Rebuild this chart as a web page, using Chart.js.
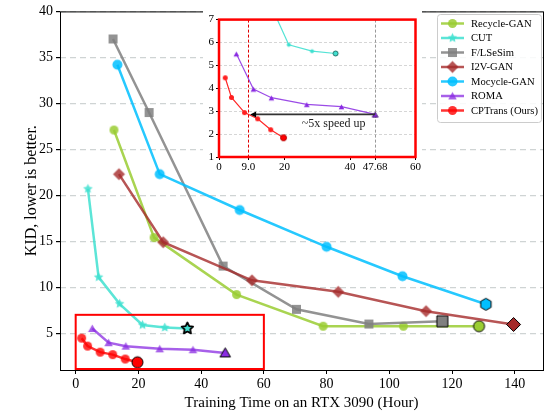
<!DOCTYPE html>
<html>
<head>
<meta charset="utf-8">
<script src="https://cdn.jsdelivr.net/npm/chart.js@4.4.1/dist/chart.umd.min.js"></script>
<style>
  body { margin: 0; background: #fff; }
  #wrap { position: relative; width: 552px; height: 415px; }
  #main { position: absolute; left: 0; top: 0; }
  #inset { position: absolute; left: 203px; top: 11px; }
</style>
</head>
<body>
<div id="wrap">
  <canvas id="main" width="552" height="415"></canvas>
  <canvas id="inset" width="219" height="166"></canvas>
</div>
<script>
// ---- data ----
const seriesNames = ['Recycle-GAN', 'CUT', 'F/LSeSim', 'I2V-GAN', 'Mocycle-GAN', 'ROMA', 'CPTrans (Ours)'];
const recycleX = [12.2, 25.0, 51.3, 78.9, 104.5, 128.6];
const recycleY = [27.1, 15.4, 9.2, 5.76, 5.76, 5.76];
const cutX = [3.9, 7.3, 14.0, 21.3, 28.4, 35.6];
const cutY = [20.7, 11.1, 8.2, 5.9, 5.62, 5.52];
const flsX = [11.9, 23.4, 47.0, 70.4, 93.5, 116.9];
const flsY = [37.0, 29.0, 12.3, 7.6, 6.0, 6.3];
const i2vX = [13.8, 27.9, 56.2, 83.7, 111.7, 139.6];
const i2vY = [22.3, 14.9, 10.75, 9.5, 7.4, 5.95];
const mocX = [13.3, 26.8, 52.3, 80.0, 104.2, 130.8];
const mocY = [34.2, 22.3, 18.4, 14.4, 11.2, 8.15];
const romaX = [5.3, 10.5, 16.0, 26.8, 37.4, 47.68];
const romaY = [5.51, 3.97, 3.59, 3.3, 3.2, 2.86];
const cptX = [1.9, 3.8, 7.8, 11.8, 15.8, 19.7];
const cptY = [4.46, 3.6, 2.94, 2.67, 2.19, 1.84];

const xTicks = [0, 20, 40, 60, 80, 100, 120, 140];
const yTicks = [5, 10, 15, 20, 25, 30, 35, 40];
const insetXTicks = [0, 9.0, 20, 40, 47.68, 60];
const insetXLabels = ['0', '9.0', '20', '40', '47.68', '60'];
const insetYTicks = [1, 2, 3, 4, 5, 6, 7];

const zoomBoxX = [0, 60];
const zoomBoxY = [1, 7];
const speedLineX = [9.0, 47.68];
const arrowX = [47.68, 9.5];
const arrowY = 2.86;
const speedText = '~5x speed up';
const speedTextPos = [35, 2.43];

const serif = '"Liberation Serif", "DejaVu Serif", serif';

// ---- marker images ----
function makeMarker(shape, d, fill, stroke, lw) {
    lw = lw || 0;
    const s = Math.ceil(d + lw + 4) | 1;
    const c = document.createElement('canvas');
    c.width = s; c.height = s;
    const g = c.getContext('2d');
    const cx = s / 2, cy = s / 2, r = d / 2;
    g.beginPath();
    if (shape === 'circle') {
        g.arc(cx, cy, r, 0, Math.PI * 2);
    } else if (shape === 'square') {
        g.rect(cx - r, cy - r, 2 * r, 2 * r);
    } else if (shape === 'diamond') {
        g.moveTo(cx, cy - r); g.lineTo(cx + r, cy); g.lineTo(cx, cy + r); g.lineTo(cx - r, cy);
    } else if (shape === 'triangle') {
        for (let k = 0; k < 3; k++) {
            const a = -Math.PI / 2 + k * 2 * Math.PI / 3;
            const px = cx + Math.cos(a) * r * 1.1, py = cy + 1 + Math.sin(a) * r * 1.1;
            k ? g.lineTo(px, py) : g.moveTo(px, py);
        }
    } else if (shape === 'hexagon') {
        for (let k = 0; k < 6; k++) {
            const a = -Math.PI / 2 + k * Math.PI / 3;
            const px = cx + Math.cos(a) * r, py = cy + Math.sin(a) * r;
            k ? g.lineTo(px, py) : g.moveTo(px, py);
        }
    } else if (shape === 'star') {
        for (let k = 0; k < 10; k++) {
            const a = -Math.PI / 2 + k * Math.PI / 5;
            const rr = k % 2 ? r * 0.5 : r;
            const px = cx + Math.cos(a) * rr, py = cy + Math.sin(a) * rr;
            k ? g.lineTo(px, py) : g.moveTo(px, py);
        }
    }
    g.closePath();
    g.fillStyle = fill;
    g.fill();
    if (stroke && lw) { g.lineWidth = lw; g.lineJoin = 'round'; g.strokeStyle = stroke; g.stroke(); }
    return c;
}

const lineColors = ['rgba(154,205,50,0.85)', 'rgba(64,224,208,0.85)', 'rgba(128,128,128,0.85)',
    'rgba(165,42,42,0.8)', 'rgba(0,191,255,0.85)', 'rgba(138,43,226,0.75)', 'rgba(255,0,0,0.8)'];
const solid = ['#9acd32', '#40e0d0', '#808080', '#a52a2a', '#00bfff', '#8a2be2', '#ff0000'];
const shapes = ['circle', 'star', 'square', 'diamond', 'circle', 'triangle', 'circle'];
const sizes = [9, 10, 9, 12, 10, 9, 9];

const markers = shapes.map((s, i) => makeMarker(s, sizes[i], lineColors[i]));
const lastMarkers = shapes.map((s, i) => {
    if (i === 4) return makeMarker('hexagon', 12, solid[i], '#000', 1);
    if (i === 1) return makeMarker('star', 12, solid[i], '#000', 1.8);
    return makeMarker(s, sizes[i] + 2, solid[i], '#000', 1);
});

function pts(xs, ys) { return xs.map((x, i) => ({ x: x, y: ys[i] })); }
const allX = [recycleX, cutX, flsX, i2vX, mocX, romaX, cptX];
const allY = [recycleY, cutY, flsY, i2vY, mocY, romaY, cptY];

const mainSets = seriesNames.map((name, i) => ({
    label: name,
    data: pts(allX[i], allY[i]),
    showLine: true,
    borderColor: lineColors[i],
    borderWidth: 2.5,
    pointRadius: 5,
    pointStyle: ctx => ctx.dataIndex === allX[i].length - 1 ? lastMarkers[i] : markers[i],
    order: 6 - i
}));

// ---- plugins ----
const mainDecor = {
    id: 'mainDecor',
    afterDatasetsDraw(chart) {
        const { ctx, chartArea: a, scales: { x, y } } = chart;
        ctx.save();
        // zoom box
        ctx.strokeStyle = '#ff0000';
        ctx.lineWidth = 2;
        const bx1 = x.getPixelForValue(zoomBoxX[0]), bx2 = x.getPixelForValue(zoomBoxX[1]);
        const by1 = y.getPixelForValue(zoomBoxY[1]), by2 = y.getPixelForValue(zoomBoxY[0]);
        ctx.strokeRect(bx1, by1, bx2 - bx1, by2 - by1 - 1);
        // frame
        ctx.strokeStyle = '#000';
        ctx.lineWidth = 1;
        ctx.strokeRect(a.left + 0.5, a.top + 0.5, a.right - a.left, a.bottom - a.top);
        // legend
        const lx = 437, ly = 14, lw = 104, lh = 108;
        ctx.fillStyle = 'rgba(255,255,255,0.85)';
        ctx.strokeStyle = '#cccccc';
        ctx.beginPath();
        ctx.roundRect(lx + 0.5, ly + 0.5, lw, lh, 3);
        ctx.fill();
        ctx.stroke();
        ctx.font = '10.6px ' + serif;
        ctx.textBaseline = 'middle';
        seriesNames.forEach((name, i) => {
            const cy = ly + 9.5 + i * 14.5;
            ctx.strokeStyle = lineColors[i];
            ctx.lineWidth = 2.5;
            ctx.beginPath();
            ctx.moveTo(lx + 4, cy); ctx.lineTo(lx + 27, cy);
            ctx.stroke();
            const m = markers[i];
            ctx.drawImage(m, lx + 15.5 - m.width / 2, cy - m.height / 2);
            ctx.fillStyle = '#000';
            ctx.fillText(name, lx + 34, cy + 0.5);
        });
        ctx.restore();
    }
};

new Chart(document.getElementById('main'), {
    type: 'scatter',
    data: { datasets: mainSets },
    options: {
        responsive: false,
        animation: false,
        layout: { padding: { top: 10, right: 9, left: 0, bottom: 0 } },
        plugins: { legend: { display: false }, tooltip: { enabled: false } },
        scales: {
            x: {
                min: -5, max: 149,
                afterFit: s => { s.height = 45; },
                afterBuildTicks: s => { s.ticks = xTicks.map(v => ({ value: v })); },
                ticks: { color: '#000', font: { family: serif, size: 14 }, padding: 2, autoSkip: false, maxRotation: 0 },
                grid: { drawOnChartArea: false, tickColor: '#000', tickLength: 4 },
                border: { display: false },
                title: { display: true, text: 'Training Time on an RTX 3090 (Hour)', color: '#000',
                    font: { family: serif, size: 15 }, padding: { top: 0, bottom: 3 } }
            },
            y: {
                min: 1, max: 40,
                afterFit: s => { s.width = 60; },
                afterBuildTicks: s => { s.ticks = yTicks.map(v => ({ value: v })); },
                ticks: { color: '#000', font: { family: serif, size: 14 }, padding: 3 },
                grid: { color: '#cfd4d4', lineWidth: 1.2, tickColor: '#000', tickLength: 4 },
                border: { display: false, dash: [6, 4] },
                title: { display: true, text: 'KID, lower is better.', color: '#000',
                    font: { family: serif, size: 16 }, padding: { top: 22, bottom: 0 } }
            }
        }
    },
    plugins: [mainDecor]
});

// ---- inset ----
const insetMarkers = {
    cut: makeMarker('circle', 4, '#40e0d0'),
    cutLast: makeMarker('circle', 5, '#40e0d0', '#1f6f66', 1),
    roma: makeMarker('triangle', 6, '#8a2be2'),
    romaLast: makeMarker('triangle', 6, '#8a2be2', '#4b1c7a', 1),
    cpt: makeMarker('circle', 5, '#ff2020'),
    cptLast: makeMarker('circle', 6, '#ff0000', '#b00000', 1)
};

function insetSet(xs, ys, color, m, mLast, ord) {
    return {
        data: pts(xs, ys), showLine: true, borderColor: color, borderWidth: 1.2,
        pointRadius: 3, order: ord,
        pointStyle: ctx => ctx.dataIndex === xs.length - 1 ? mLast : m
    };
}

const insetDecor = {
    id: 'insetDecor',
    beforeDraw(chart) {
        const { ctx, width, height } = chart;
        ctx.save();
        ctx.fillStyle = '#fff';
        ctx.fillRect(0, 0, width, height);
        ctx.restore();
    },
    beforeDatasetsDraw(chart) {
        const { ctx, chartArea: a, scales: { x } } = chart;
        ctx.save();
        ctx.lineWidth = 1;
        ctx.setLineDash([3, 2]);
        ctx.strokeStyle = '#e00000';
        let px = Math.round(x.getPixelForValue(speedLineX[0])) + 0.5;
        ctx.beginPath(); ctx.moveTo(px, a.top); ctx.lineTo(px, a.bottom); ctx.stroke();
        ctx.strokeStyle = '#999';
        px = Math.round(x.getPixelForValue(speedLineX[1])) + 0.5;
        ctx.beginPath(); ctx.moveTo(px, a.top); ctx.lineTo(px, a.bottom); ctx.stroke();
        ctx.restore();
    },
    afterDatasetsDraw(chart) {
        const { ctx, chartArea: a, scales: { x, y } } = chart;
        ctx.save();
        // arrow
        const x1 = x.getPixelForValue(arrowX[0]), x2 = x.getPixelForValue(arrowX[1]);
        const ay = y.getPixelForValue(arrowY);
        ctx.strokeStyle = '#333';
        ctx.lineWidth = 1.6;
        ctx.beginPath(); ctx.moveTo(x1, ay); ctx.lineTo(x2 + 5, ay); ctx.stroke();
        ctx.fillStyle = '#000';
        ctx.beginPath();
        ctx.moveTo(x2, ay); ctx.lineTo(x2 + 6, ay - 3); ctx.lineTo(x2 + 6, ay + 3); ctx.closePath();
        ctx.fill();
        ctx.font = '12px ' + serif;
        ctx.textAlign = 'center';
        ctx.textBaseline = 'middle';
        ctx.fillStyle = '#222';
        ctx.fillText(speedText, x.getPixelForValue(speedTextPos[0]), y.getPixelForValue(speedTextPos[1]));
        // red frame
        ctx.strokeStyle = '#ff0000';
        ctx.lineWidth = 2.5;
        ctx.strokeRect(a.left, a.top, a.right - a.left, a.bottom - a.top);
        ctx.restore();
    }
};

new Chart(document.getElementById('inset'), {
    type: 'scatter',
    data: {
        datasets: [
            insetSet(cptX, cptY, 'rgba(255,0,0,0.85)', insetMarkers.cpt, insetMarkers.cptLast, 0),
            insetSet(romaX, romaY, 'rgba(138,43,226,0.85)', insetMarkers.roma, insetMarkers.romaLast, 1),
            insetSet(cutX, cutY, 'rgba(64,224,208,0.9)', insetMarkers.cut, insetMarkers.cutLast, 2)
        ]
    },
    options: {
        responsive: false,
        animation: false,
        layout: { padding: { top: 6, right: 3, left: 0, bottom: 0 } },
        plugins: { legend: { display: false }, tooltip: { enabled: false } },
        scales: {
            x: {
                min: 0, max: 60,
                afterFit: s => { s.height = 20; },
                afterBuildTicks: s => { s.ticks = insetXTicks.map(v => ({ value: v })); },
                ticks: { color: '#000', font: { family: serif, size: 11 }, padding: 1, autoSkip: false, maxRotation: 0,
                    callback: (v, i) => insetXLabels[i] },
                grid: { drawOnChartArea: false, tickColor: '#000', tickLength: 3 },
                border: { display: false }
            },
            y: {
                min: 1, max: 7,
                afterFit: s => { s.width = 16; },
                afterBuildTicks: s => { s.ticks = insetYTicks.map(v => ({ value: v })); },
                ticks: { color: '#000', font: { family: serif, size: 11 }, padding: 2 },
                grid: { color: '#d6d6d6', lineWidth: 1, tickColor: '#000', tickLength: 3 },
                border: { display: false, dash: [3, 2] }
            }
        }
    },
    plugins: [insetDecor]
});
</script>
</body>
</html>
